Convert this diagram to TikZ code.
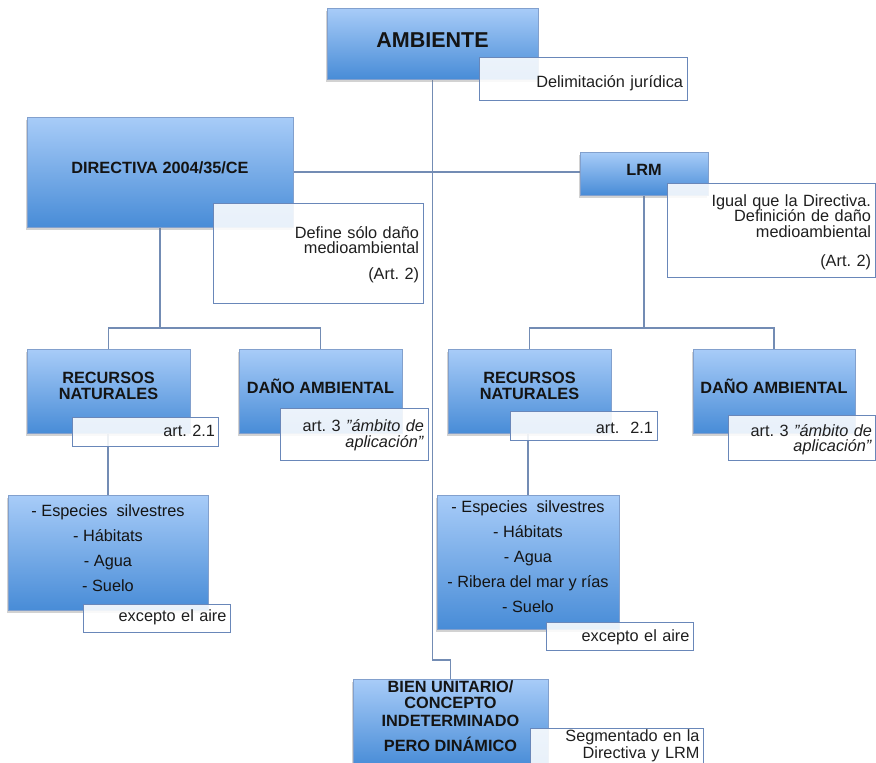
\documentclass[tikz,border=0pt]{standalone}
\usepackage{fontspec}
\setmainfont{Liberation Sans}
\usetikzlibrary{shadows,backgrounds}
\frenchspacing
\newcommand{\sq}{\char34}% straight quote
\definecolor{BoxTop}{RGB}{168,204,248}
\definecolor{BoxBottom}{RGB}{72,140,215}
\definecolor{BoxEdge}{RGB}{130,160,205}
\definecolor{NoteEdge}{RGB}{105,135,185}
\definecolor{LinkClr}{RGB}{115,140,180}
\tikzset{
    MyBox/.style={anchor=north west,inner sep=0pt,outer sep=0pt,
    draw=BoxEdge,line width=.6pt,top color=BoxTop,bottom color=BoxBottom,
    drop shadow={shadow xshift=-1.5pt,shadow yshift=-2.5pt,opacity=.35},
    align=center,text=black!92,font=\fontsize{16.3}{16}\selectfont\bfseries},
    MyNote/.style={anchor=north west,inner ysep=0pt,inner xsep=4pt,outer sep=0pt,
    draw=NoteEdge,line width=.9pt,fill=white,fill opacity=.88,text opacity=1,
    align=right,text=black!88,font=\fontsize{16.3}{15.5}\selectfont},
    MyList/.style={font=\fontsize{16.3}{25}\selectfont},
    MyLink/.style={draw=LinkClr,line width=1.4pt}}

\begin{document}
\begin{tikzpicture}[x={(1pt,0)},y={(0,-1pt)}]
    \path[use as bounding box] (0,0) rectangle (876,763);
    \clip (0,0) rectangle (876,763);

    % top level
    \node[MyBox,minimum width=211pt,minimum height=71pt,text height=15.5pt,text depth=8.5pt,
        font=\fontsize{21.5}{24}\selectfont\bfseries] (amb) at (327,8) {AMBIENTE};
    \node[MyNote,minimum width=208pt,minimum height=43pt,text width=200pt,
        text height=18.6pt,text depth=1pt] (ambnote) at (479,57) {Delimitación jurídica};

    % Directiva and LRM
    \node[MyBox,minimum width=266pt,minimum height=110pt,text height=11.6pt,text depth=9.6pt]
        (dir) at (27,117) {DIRECTIVA 2004/35/CE};
    \node[MyNote,minimum width=210pt,minimum height=100pt,text width=202pt,
        text height=11.6pt,text depth=41pt] (dirnote) at (213,203)
        {Define sólo daño\\medioambiental\\[10pt](Art. 2)};
    \node[MyBox,minimum width=128pt,minimum height=43pt,text height=11.6pt,text depth=8.6pt]
        (lrm) at (580,152) {LRM};
    \node[MyNote,minimum width=208pt,minimum height=94pt,text width=200pt,
        text height=11.6pt,text depth=59.6pt] (lrmnote) at (667,183)
        {Igual que la Directiva.\\Definición de daño\\medioambiental\\[14.4pt](Art. 2)};

    % second row, left
    \node[MyBox,minimum width=163pt,minimum height=84pt,text height=17pt,text depth=1pt]
        (recL) at (27,349) {RECURSOS\\NATURALES};
    \node[MyNote,minimum width=146pt,minimum height=29pt,text width=140pt,inner xsep=3pt,
        text height=11.4pt,text depth=1pt] (recLnote) at (72,417) {art. 2.1};
    \node[MyBox,minimum width=163pt,minimum height=84pt,text height=11.6pt,text depth=7.6pt]
        (danL) at (239,349) {DAÑO AMBIENTAL};
    \node[MyNote,minimum width=148pt,minimum height=52pt,text width=140pt,
        text height=11.6pt,text depth=16.2pt] (danLnote) at (280,408)
        {art. 3 \textit{\sq ámbito de}\\\textit{aplicación\sq}};

    % second row, right
    \node[MyBox,minimum width=163pt,minimum height=84pt,text height=17pt,text depth=1pt]
        (recR) at (448,349) {RECURSOS\\NATURALES};
    \node[MyNote,minimum width=147pt,minimum height=29pt,text width=139pt,
        text height=15.6pt,text depth=0pt] (recRnote) at (510,411) {art.\ \ 2.1};
    \node[MyBox,minimum width=162pt,minimum height=84pt,text height=11.6pt,text depth=7.6pt]
        (danR) at (693,349) {DAÑO AMBIENTAL};
    \node[MyNote,minimum width=147pt,minimum height=45pt,text width=141pt,inner xsep=3pt,
        text height=11.6pt,text depth=14.6pt] (danRnote) at (728,415)
        {art. 3 \textit{\sq ámbito de}\\\textit{aplicación\sq}};

    % lists
    \node[MyBox,MyList,minimum width=200pt,minimum height=115pt,text height=79.4pt,text depth=1pt]
        (espL) at (8,495) {- Especies\ \ silvestres\\- Hábitats\\- Agua\\- Suelo};
    \node[MyNote,minimum width=147pt,minimum height=28pt,text width=140pt,inner xsep=3.5pt,
        text height=9.4pt,text depth=2pt] (espLnote) at (83,604) {excepto el aire};
    \node[MyBox,MyList,minimum width=182pt,minimum height=134pt,text height=101.6pt,text depth=1pt]
        (espR) at (437,495) {- Especies\ \ silvestres\\- Hábitats\\- Agua\\- Ribera del mar y rías\\- Suelo};
    \node[MyNote,minimum width=147pt,minimum height=28pt,text width=140pt,inner xsep=3.5pt,
        text height=12.4pt,text depth=1pt] (espRnote) at (546,622) {excepto el aire};

    % bottom
    \node[MyBox,minimum width=195pt,minimum height=87pt,text height=59.4pt,text depth=1pt,
        font=\fontsize{16.3}{15.6}\selectfont\bfseries] (bien) at (353,679)
        {BIEN UNITARIO/\\CONCEPTO\\[2.8pt]INDETERMINADO\\[9.4pt]PERO DINÁMICO};
    \node[MyNote,minimum width=173pt,minimum height=47pt,text width=166pt,inner xsep=3.5pt,
        text height=11.6pt,text depth=31.2pt,font=\fontsize{16.3}{16.6}\selectfont]
        (biennote) at (530,728) {Segmentado en la\\Directiva y LRM};

    % connectors
    \begin{scope}[on background layer]
    \fill[white] (0,0) rectangle (876,763);
    \draw[MyLink] (amb.south) -- ++(0,581) -| (bien.north);
    \draw[MyLink] (dir.east) -- (dir.east -| lrm.west);
    \draw[MyLink] (dir.south) -- ++(0,101) coordinate (forkL);
    \draw[MyLink] (recL.north) |- (forkL) -| (danL.north);
    \draw[MyLink] (lrm.south) -- ++(0,133) coordinate (forkR);
    \draw[MyLink] (recR.north) |- (forkR) -| (danR.north);
    \draw[MyLink] (espL.north) -- (espL.north |- recL.south);
    \draw[MyLink] (espR.north) -- (espR.north |- recR.south);
    \end{scope}
\end{tikzpicture}
\end{document}
